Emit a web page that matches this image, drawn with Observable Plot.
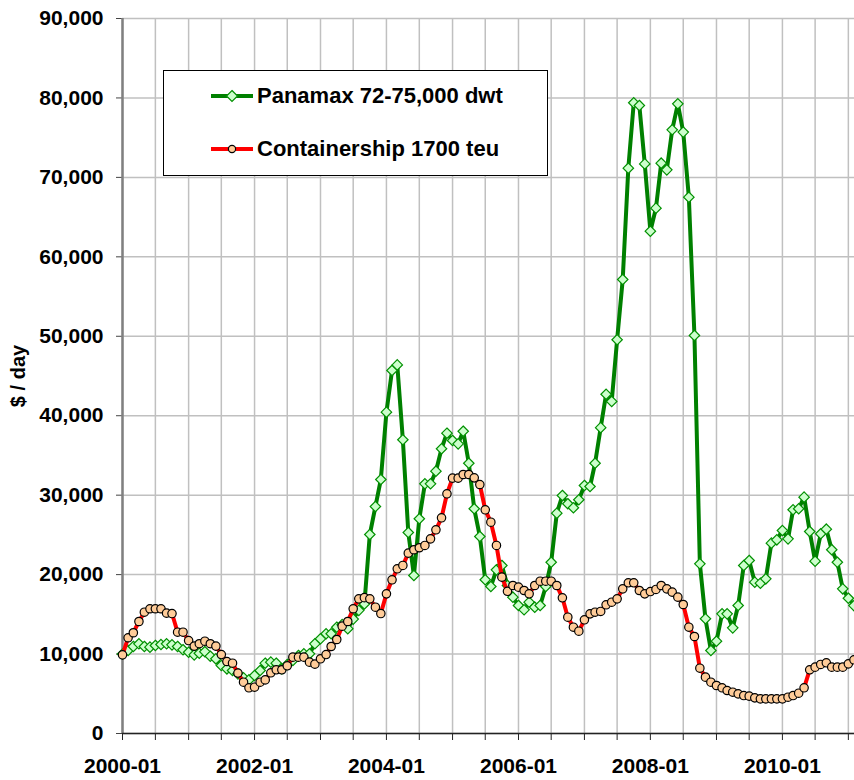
<!DOCTYPE html>
<html><head><meta charset="utf-8">
<script src="https://cdn.jsdelivr.net/npm/d3@7"></script>
<script src="https://cdn.jsdelivr.net/npm/@observablehq/plot@0.6"></script>
<style>
body{margin:0;background:#fff;}
#wrap{position:relative;width:854px;height:780px;overflow:hidden;font-family:"Liberation Sans",Arial,sans-serif;}
#legend{position:absolute;left:163px;top:70px;width:385px;height:106px;border:1px solid #000;background:#fff;box-sizing:border-box;}
.key{position:absolute;left:45px;width:46px;height:30px;}
.lab{position:absolute;left:93px;height:30px;line-height:30px;font-weight:bold;font-size:22px;color:#000;white-space:nowrap;}
</style></head><body><div id="wrap"></div>
<script>
// Monthly time-charter rates, $ / day, starting 2000-01
const startYear = 2000;
const seriesNames = ["Panamax 72-75,000 dwt", "Containership 1700 teu"];
const panamax = [10000,10450,10950,11290,10950,10870,11080,11200,11290,11160,
10950,10540,10230,9900,10100,10300,9730,9400,8560,8140,
7930,7510,7010,6750,7300,7930,8850,8980,8850,8140,
8690,9190,9820,10030,10030,11290,11920,12550,12550,13380,
13700,13200,14400,15500,16300,25050,28570,31970,40450,45700,
46400,36970,25300,19890,27030,31430,31430,33020,35840,37800,
36880,36460,38050,34020,28290,24800,19350,18500,20600,21150,
18630,17160,16110,15570,16530,15900,16110,18500,21560,27730,
29960,28920,28410,29420,31220,31090,34020,38500,42700,41800,
49560,57150,71160,79390,79050,71700,63230,66130,71790,70950,
75990,79260,75700,67510,50100,21360,14440,10450,11620,15060,
15060,13300,16110,21150,21780,19050,18920,19470,23960,24380,
25550,24500,28160,28290,29750,25430,21690,25140,25720,23130,
21560,18210,17030,16100];
const containership = [9900,12050,12680,14100,15270,15700,15700,15700,15150,15100,
12750,12750,11700,11000,11300,11620,11300,11000,9940,9060,
8850,7600,6460,5750,5830,6460,6750,7640,8020,8020,
8520,9610,9610,9610,8980,8730,9400,9940,10950,11830,
13510,14100,15700,16950,17100,16950,15900,15100,17580,19350,
20730,21150,22700,23130,23380,23670,24500,25640,27150,30170,
32140,32140,32600,32600,32180,31340,28160,26600,23670,19680,
17900,18630,18420,18000,17580,18630,19170,19170,19170,18630,
17080,14640,13380,12880,14310,15060,15270,15360,16200,16530,
16950,18210,18970,18970,18000,17580,17870,18130,18630,18210,
17790,17160,16240,13380,12210,8220,7090,6460,6040,5750,
5410,5200,4990,4780,4700,4490,4360,4360,4360,4360,
4360,4570,4780,5070,5750,8020,8350,8690,8900,8350,
8350,8350,8770,9280];
const yTicks = [0,10000,20000,30000,40000,50000,60000,70000,80000,90000];
const xTickLabels = ["2000-01","2002-01","2004-01","2006-01","2008-01","2010-01"];
const yLabel = "$ / day";

const monthDate = i => new Date(Date.UTC(startYear, i, 1));
const rowsP = panamax.map((v, i) => ({date: monthDate(i), value: v}));
const rowsC = containership.map((v, i) => ({date: monthDate(i), value: v}));
const xStart = new Date(Date.UTC(2000, 0, 1));
const xEnd = new Date(Date.UTC(2011, 1, 4));
const xTicks = d3.utcMonth.every(6).range(xStart, xEnd);
const fmt = d3.utcFormat("%Y-%m");
const font = '"Liberation Sans", Arial, sans-serif';

const chart = Plot.plot({
  width: 854, height: 780,
  marginLeft: 122, marginRight: 0, marginTop: 18, marginBottom: 47,
  style: {fontFamily: font, fontSize: "21px", fontWeight: "bold", color: "#000", background: "#fff", overflow: "hidden"},
  x: {type: "utc", domain: [xStart, xEnd]},
  y: {domain: [0, 90000]},
  marks: [
    Plot.gridX(xTicks, {stroke: "#c0c0c0", strokeOpacity: 1, strokeWidth: 1.5}),
    Plot.gridY(yTicks, {stroke: "#c0c0c0", strokeOpacity: 1, strokeWidth: 1.5}),
    Plot.axisY(yTicks, {tickFormat: d3.format(","), tickSize: 6, tickPadding: 13, label: null, fontSize: 21, fontWeight: "bold", stroke: "#444"}),
    Plot.axisX(xTicks, {tickFormat: d => xTickLabels.includes(fmt(d)) ? fmt(d) : "", tickSize: 7, tickPadding: 18, label: null, fontSize: 21, fontWeight: "bold", stroke: "#222"}),
    Plot.ruleX([xStart], {stroke: "#808080", strokeWidth: 2.5}),
    Plot.ruleY([0], {stroke: "#222", strokeWidth: 1.5}),
    Plot.line(rowsP, {x: "date", y: "value", stroke: "#008000", strokeWidth: 4, clip: true}),
    Plot.dot(rowsP, {x: "date", y: "value", symbol: "diamond2", r: 4.7, fill: "#ccffcc", stroke: "#009000", strokeWidth: 1.2}),
    Plot.line(rowsC, {x: "date", y: "value", stroke: "#ff0000", strokeWidth: 4, clip: true}),
    Plot.dot(rowsC, {x: "date", y: "value", symbol: "circle", r: 4.2, fill: "#ffcc99", stroke: "#000", strokeWidth: 1.2}),
    Plot.text([yLabel], {frameAnchor: "left", dx: -104, rotate: -90, textAnchor: "middle", fontSize: 20, fontWeight: "bold", fill: "#000"})
  ]
});
const wrap = document.getElementById("wrap");
wrap.appendChild(chart);

// Legend box drawn over the plot area
const legend = document.createElement("div");
legend.id = "legend";
const items = [
  {name: seriesNames[0], color: "#008000", symbol: "diamond", fill: "#ccffcc", stroke: "#009000", cy: 25},
  {name: seriesNames[1], color: "#ff0000", symbol: "circle", fill: "#ffcc99", stroke: "#000", cy: 78}
];
for (const it of items) {
  const k = document.createElementNS("http://www.w3.org/2000/svg", "svg");
  k.setAttribute("class", "key");
  k.setAttribute("viewBox", "0 0 46 30");
  k.style.top = (it.cy - 15) + "px";
  let mk;
  if (it.symbol === "diamond") mk = `<path d="M23,9.5L28.5,15L23,20.5L17.5,15Z" fill="${it.fill}" stroke="${it.stroke}" stroke-width="1.2"/>`;
  else mk = `<circle cx="23" cy="15" r="3.6" fill="${it.fill}" stroke="${it.stroke}" stroke-width="1.2"/>`;
  k.innerHTML = `<line x1="2" x2="44" y1="15" y2="15" stroke="${it.color}" stroke-width="4"/>` + mk;
  legend.appendChild(k);
  const t = document.createElement("div");
  t.className = "lab";
  t.style.top = (it.cy - 15) + "px";
  t.textContent = it.name;
  legend.appendChild(t);
}
wrap.appendChild(legend);
</script></body></html>
